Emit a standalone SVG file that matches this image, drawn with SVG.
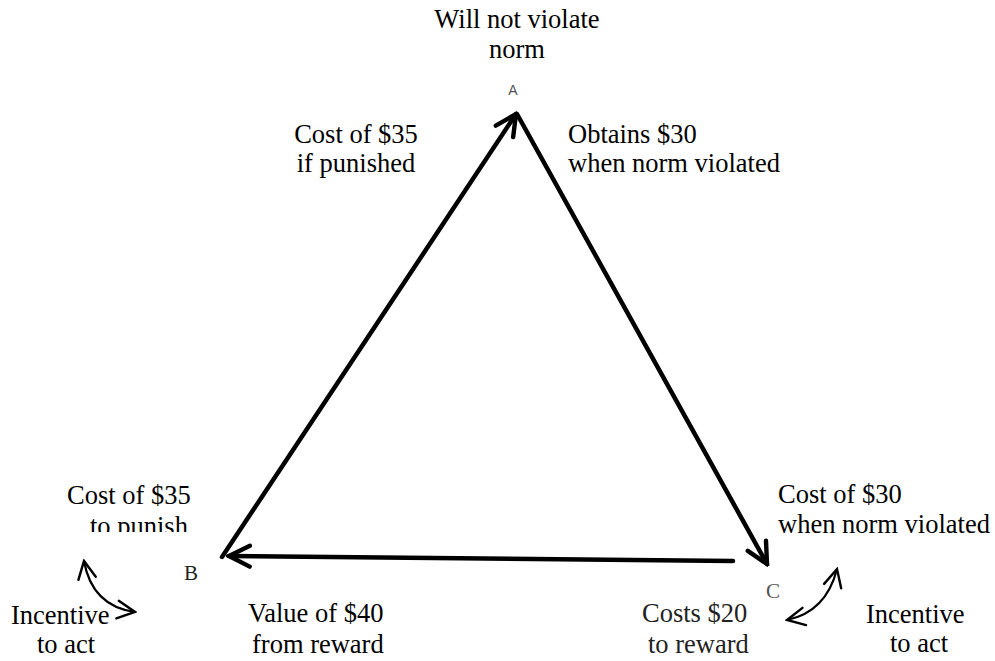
<svg xmlns="http://www.w3.org/2000/svg" width="995" height="661" viewBox="0 0 995 661">
<style>
.t{font-family:"Liberation Serif","Times New Roman",serif;font-size:26.5px;fill:#000}
.n{font-family:"Liberation Serif","Times New Roman",serif;font-size:21px;fill:#222}
.a{font-family:"Liberation Sans",Arial,sans-serif;font-size:14px;fill:#555}
.e{fill:none;stroke:#000;stroke-width:4.5;stroke-linecap:round}
.c{fill:none;stroke:#000;stroke-width:2.2;stroke-linecap:round}
</style>
<defs>
<marker id="ah" viewBox="0 0 20 20" refX="18" refY="10" markerWidth="26" markerHeight="26" markerUnits="userSpaceOnUse" orient="auto">
<path d="M2,2 L18,10 L2,18" fill="none" stroke="#000" stroke-width="3.4" stroke-linejoin="miter" stroke-linecap="round"/>
</marker>
<marker id="sh" viewBox="0 0 20 20" refX="18" refY="10" markerWidth="22" markerHeight="22" markerUnits="userSpaceOnUse" orient="auto-start-reverse">
<path d="M2,2 L18,10 L2,18" fill="none" stroke="#000" stroke-width="2.2" stroke-linecap="round"/>
</marker>
<clipPath id="clipP"><rect x="0" y="480" width="300" height="52"/></clipPath>
</defs>
<g id="connectors">
<line class="e" x1="222" y1="557" x2="516" y2="114" marker-end="url(#ah)"/>
<line class="e" x1="517" y1="114" x2="767" y2="564" marker-end="url(#ah)"/>
<line class="e" x1="733" y1="561" x2="229" y2="556" marker-end="url(#ah)"/>
<path class="c" d="M84,561 Q92,606 135,612" marker-start="url(#sh)" marker-end="url(#sh)"/>
<path class="c" d="M837,569 Q826,612 787,620" marker-start="url(#sh)" marker-end="url(#sh)"/>
</g>
<g id="nodeA">
<text class="t" x="517" y="28" text-anchor="middle">Will not violate</text>
<text class="t" x="517" y="58" text-anchor="middle">norm</text>
<text class="a" x="513" y="95" text-anchor="middle">A</text>
</g>
<g id="nodeB">
<text class="n" x="191" y="580" text-anchor="middle">B</text>
</g>
<g id="nodeC">
<text class="n" x="773" y="598" text-anchor="middle" style="fill:#555">C</text>
</g>
<g id="labels">
<text class="t" x="356" y="143" text-anchor="middle">Cost of $35</text>
<text class="t" x="356" y="172" text-anchor="middle">if punished</text>
<text class="t" x="568" y="143">Obtains $30</text>
<text class="t" x="568" y="172">when norm violated</text>
<text class="t" x="67" y="504">Cost of $35</text>
<text class="t" x="90" y="535" clip-path="url(#clipP)">to punish</text>
<text class="t" x="11" y="624">Incentive</text>
<text class="t" x="37" y="653">to act</text>
<text class="t" x="248" y="622">Value of $40</text>
<text class="t" x="252" y="653">from reward</text>
<text class="t" x="642" y="622" style="fill:#222">Costs $20</text>
<text class="t" x="648" y="653" style="fill:#222">to reward</text>
<text class="t" x="778" y="503">Cost of $30</text>
<text class="t" x="778" y="533">when norm violated</text>
<text class="t" x="866" y="623">Incentive</text>
<text class="t" x="890" y="652">to act</text>
</g>
</svg>
